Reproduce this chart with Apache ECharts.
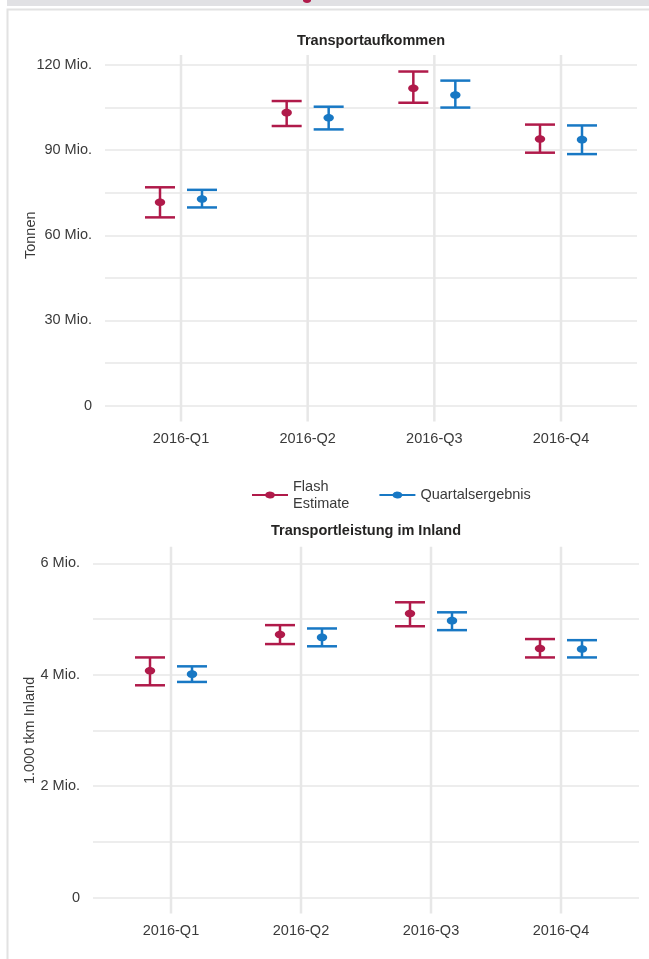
<!DOCTYPE html>
<html><head><meta charset="utf-8">
<script src="https://cdn.jsdelivr.net/npm/echarts@6/dist/echarts.min.js"></script>
<style>html,body{margin:0;padding:0;background:#fff}#c{width:649px;height:959px}</style>
</head><body><div id="c"></div>
<script>
const categories = ['2016-Q1', '2016-Q2', '2016-Q3', '2016-Q4'];
const seriesNames = ['Flash Estimate', 'Quartalsergebnis'];

// Transportaufkommen (Mio. Tonnen)
const tonFlashValue = [71.6, 103.2, 111.8, 93.9];
const tonFlashLow   = [66.3, 98.5, 106.7, 89.1];
const tonFlashHigh  = [76.9, 107.3, 117.7, 99.0];
const tonQuartValue = [72.8, 101.4, 109.4, 93.7];
const tonQuartLow   = [69.8, 97.3, 105.0, 88.6];
const tonQuartHigh  = [76.0, 105.3, 114.5, 98.7];

// Transportleistung im Inland (Mio. 1.000 tkm)
const tkmFlashValue = [4.07, 4.72, 5.10, 4.47];
const tkmFlashLow   = [3.81, 4.55, 4.87, 4.31];
const tkmFlashHigh  = [4.31, 4.89, 5.30, 4.64];
const tkmQuartValue = [4.01, 4.67, 4.97, 4.46];
const tkmQuartLow   = [3.87, 4.51, 4.80, 4.31];
const tkmQuartHigh  = [4.15, 4.83, 5.12, 4.62];

const tonTicks = [0, 30, 60, 90, 120];
const tkmTicks = [0, 2, 4, 6];

const RED = '#b01a4a';
const BLUE = '#1878c4';
const GRIDC = '#e7e7e7';
const FONT = '"Liberation Sans", Arial, sans-serif';
const TXT = '#3a3a3a';

function rows(lo, hi, v) { return categories.map((c, i) => [i, lo[i], hi[i], v[i]]); }

function errRender(dx) {
  return function (params, api) {
    const x = api.value(0);
    const pLo = api.coord([x, api.value(1)]);
    const pHi = api.coord([x, api.value(2)]);
    const pV = api.coord([x, api.value(3)]);
    const cx = pV[0] + dx, half = 15;
    const color = api.visual('color');
    const st = { stroke: color, lineWidth: 2.5 };
    return { type: 'group', children: [
      { type: 'line', shape: { x1: cx, y1: pHi[1], x2: cx, y2: pLo[1] }, style: st },
      { type: 'line', shape: { x1: cx - half, y1: pHi[1], x2: cx + half, y2: pHi[1] }, style: st },
      { type: 'line', shape: { x1: cx - half, y1: pLo[1], x2: cx + half, y2: pLo[1] }, style: st },
      { type: 'ellipse', shape: { cx: cx, cy: pV[1], rx: 5.2, ry: 3.8 }, style: { fill: color } }
    ]};
  };
}

function vgridRender(yMax, extTop, extBot) {
  return function (params, api) {
    const i = api.value(0);
    const t = api.coord([i, yMax]), b = api.coord([i, 0]);
    return { type: 'line', shape: { x1: t[0], y1: t[1] - extTop, x2: t[0], y2: b[1] + extBot },
      style: { stroke: GRIDC, lineWidth: 2.5 } };
  };
}

function xAxisDef(gi) {
  return {
    type: 'value', gridIndex: gi, min: -0.6, max: 3.6,
    axisLine: { show: false }, axisTick: { show: false }, splitLine: { show: false },
    axisLabel: {
      customValues: categories.map((c, i) => i),
      formatter: v => categories[Math.round(v)] || '',
      margin: 26, fontSize: 14.5, color: TXT, fontFamily: FONT
    }
  };
}

function yAxisDef(gi, ticks, step, name, gap) {
  return {
    type: 'value', gridIndex: gi, min: 0, max: ticks[ticks.length - 1], interval: step,
    name: name, nameLocation: 'middle', nameRotate: 90, nameGap: gap, nameMoveOverlap: false,
    nameTextStyle: { fontSize: 14.5, color: TXT, fontFamily: FONT },
    axisLine: { show: false }, axisTick: { show: false },
    splitLine: { lineStyle: { color: GRIDC, width: 1.5 } },
    axisLabel: {
      fontSize: 14.5, color: TXT, fontFamily: FONT, margin: 13,
      formatter: v => ticks.indexOf(v) >= 0 ? (v === 0 ? '0' : v + ' Mio.') : ''
    }
  };
}

const chart = echarts.init(document.getElementById('c'), null, { renderer: 'canvas' });

chart.setOption({
  animation: false,
  backgroundColor: '#fff',
  graphic: [
    { type: 'rect', z: -5, shape: { x: 7, y: 0, width: 642, height: 6 }, style: { fill: '#e1e1e4' } },
    { type: 'ellipse', z: -4, shape: { cx: 307, cy: 0.5, rx: 4, ry: 2.5 }, style: { fill: RED } },
    { type: 'rect', z: -5, shape: { x: 7.5, y: 9.5, width: 700, height: 1000 }, style: { fill: '#fff', stroke: '#e2e2e2', lineWidth: 2 } },
    { type: 'text', x: 371, y: 41, style: { text: 'Transportaufkommen', align: 'center', verticalAlign: 'middle', fontSize: 14.5, fontWeight: 'bold', fontFamily: FONT, fill: '#252423' } },
    { type: 'text', x: 366, y: 531, style: { text: 'Transportleistung im Inland', align: 'center', verticalAlign: 'middle', fontSize: 14.5, fontWeight: 'bold', fontFamily: FONT, fill: '#252423' } }
  ],
  legend: {
    data: seriesNames, left: 247, top: 473, itemGap: 30, itemWidth: 36, itemHeight: 8,
    icon: 'path://M0,4 H13.21 A5,3.5 0 0 1 22.79,4 H36 V6 H22.79 A5,3.5 0 0 1 13.21,6 H0 Z',
    formatter: n => n.replace(' ', '\n'),
    textStyle: { fontSize: 14.5, lineHeight: 17, color: TXT, fontFamily: FONT }
  },
  grid: [
    { left: 105, right: 12, top: 65, height: 340.5 },
    { left: 93, right: 10, top: 563.3, height: 334.2 }
  ],
  xAxis: [xAxisDef(0), xAxisDef(1)],
  yAxis: [
    yAxisDef(0, tonTicks, 15, 'Tonnen', 67),
    yAxisDef(1, tkmTicks, 1, '1.000 tkm Inland', 56)
  ],
  series: [
    { type: 'custom', name: 'vg1', xAxisIndex: 0, yAxisIndex: 0, silent: true, z: 1,
      data: categories.map((c, i) => [i]), encode: { x: 0 },
      renderItem: vgridRender(tonTicks[tonTicks.length - 1], 10, 16) },
    { type: 'custom', name: 'vg2', xAxisIndex: 1, yAxisIndex: 1, silent: true, z: 1,
      data: categories.map((c, i) => [i]), encode: { x: 0 },
      renderItem: vgridRender(tkmTicks[tkmTicks.length - 1], 16.6, 16) },
    { type: 'custom', name: seriesNames[0], xAxisIndex: 0, yAxisIndex: 0, itemStyle: { color: RED },
      data: rows(tonFlashLow, tonFlashHigh, tonFlashValue), encode: { x: 0, y: [1, 2, 3] },
      renderItem: errRender(-21) },
    { type: 'custom', name: seriesNames[1], xAxisIndex: 0, yAxisIndex: 0, itemStyle: { color: BLUE },
      data: rows(tonQuartLow, tonQuartHigh, tonQuartValue), encode: { x: 0, y: [1, 2, 3] },
      renderItem: errRender(21) },
    { type: 'custom', name: seriesNames[0], xAxisIndex: 1, yAxisIndex: 1, itemStyle: { color: RED },
      data: rows(tkmFlashLow, tkmFlashHigh, tkmFlashValue), encode: { x: 0, y: [1, 2, 3] },
      renderItem: errRender(-21) },
    { type: 'custom', name: seriesNames[1], xAxisIndex: 1, yAxisIndex: 1, itemStyle: { color: BLUE },
      data: rows(tkmQuartLow, tkmQuartHigh, tkmQuartValue), encode: { x: 0, y: [1, 2, 3] },
      renderItem: errRender(21) }
  ]
});
</script>
</body></html>
